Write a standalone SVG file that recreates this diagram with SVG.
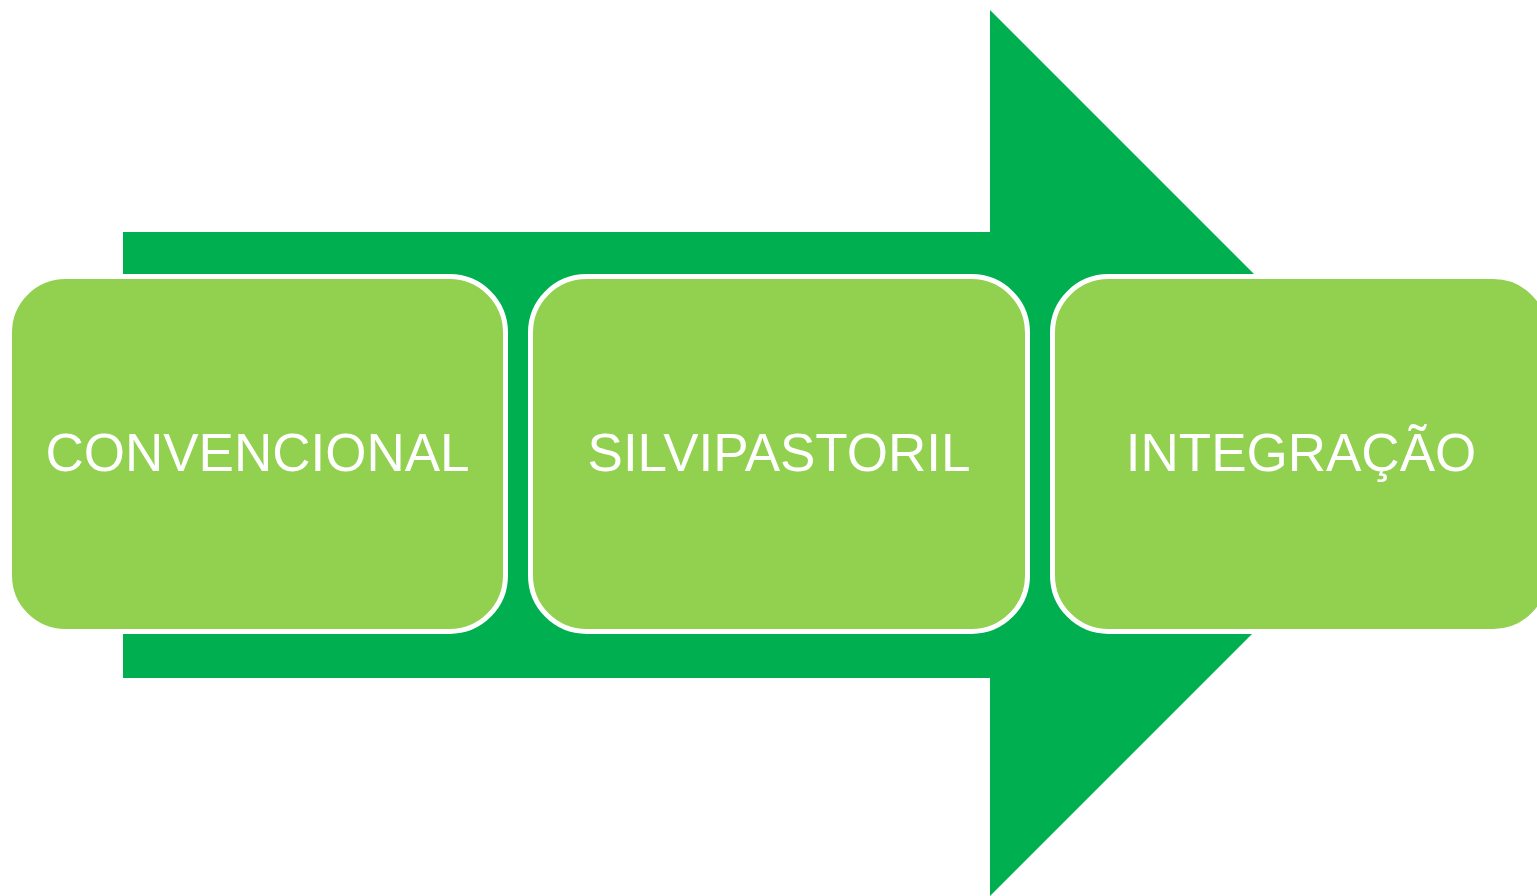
<svg xmlns="http://www.w3.org/2000/svg" width="1537" height="896" viewBox="0 0 1537 896">
<style>
.box{fill:#92D050;stroke:#FFFFFF;stroke-width:5}
.lbl{font-family:"Liberation Sans",Arial,sans-serif;font-size:53px;fill:#FFFFFF;text-anchor:middle}
</style>
<rect width="1537" height="896" fill="#FFFFFF"/>
<g id="arrow">
<polygon points="123,232 990,232 990,10 1433,453 990,896 990,678 123,678" fill="#00B050"/>
</g>
<g id="connectors"></g>
<g id="node1">
<rect class="box" x="9.5" y="276.5" width="496" height="355" rx="56" ry="56"/>
<text class="lbl" x="257.5" y="471">CONVENCIONAL</text>
</g>
<g id="node2">
<rect class="box" x="530.5" y="276.5" width="497" height="355" rx="56" ry="56"/>
<text class="lbl" x="779" y="471">SILVIPASTORIL</text>
</g>
<g id="node3">
<rect class="box" x="1052.5" y="276.5" width="497" height="355" rx="56" ry="56"/>
<text class="lbl" x="1301" y="471">INTEGRAÇÃO</text>
</g>
</svg>
